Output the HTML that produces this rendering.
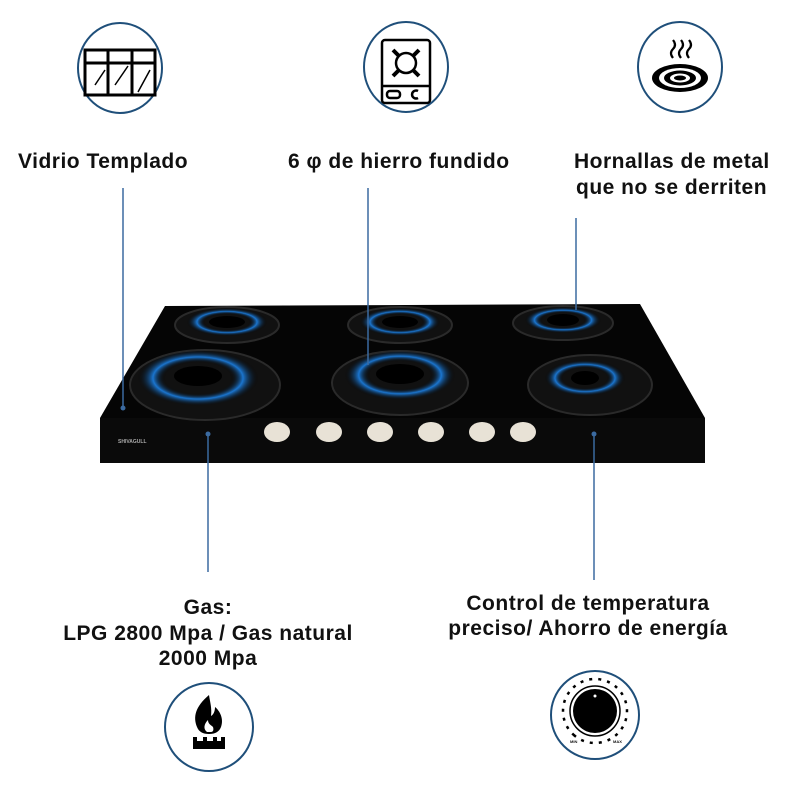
<!DOCTYPE html>
<html><head><meta charset="utf-8"><style>
body{margin:0;background:#fff;width:800px;height:800px;overflow:hidden}
svg{display:block}
text{font-family:"Liberation Sans","DejaVu Sans",sans-serif;font-size:21px;fill:#111;font-weight:bold;letter-spacing:0.5px}
</style></head><body>
<svg width="800" height="800" viewBox="0 0 800 800" xmlns="http://www.w3.org/2000/svg">
<defs>
<radialGradient id="fl" cx="50%" cy="50%" r="50%">
<stop offset="55%" stop-color="#000" stop-opacity="0"/>
<stop offset="75%" stop-color="#1e8fff"/>
<stop offset="100%" stop-color="#000" stop-opacity="0"/>
</radialGradient>
</defs>
<g fill="none" stroke="#1f4f7a" stroke-width="2">
<ellipse cx="120" cy="68" rx="42" ry="45"/>
<ellipse cx="406" cy="67" rx="42" ry="45"/>
<ellipse cx="680" cy="67" rx="42" ry="45"/>
<circle cx="209" cy="727" r="44"/>
<circle cx="595" cy="715" r="44"/>
</g>
<g fill="none" stroke="#000" stroke-width="3">
<rect x="85" y="50" width="70" height="45"/>
<line x1="85" y1="63" x2="155" y2="63"/>
<line x1="108" y1="50" x2="108" y2="95"/><line x1="132" y1="50" x2="132" y2="95"/>
<line x1="95" y1="85" x2="105" y2="70" stroke-width="1.5"/><line x1="115" y1="85" x2="128" y2="66" stroke-width="1.5"/><line x1="138" y1="92" x2="150" y2="70" stroke-width="1.5"/>
</g>
<g fill="none" stroke="#000" stroke-width="2.5">
<rect x="382" y="40" width="48" height="63" rx="3"/>
<line x1="382" y1="86" x2="430" y2="86"/>
<circle cx="406" cy="63" r="10"/>
<line x1="393" y1="50" x2="399" y2="56" stroke-width="4"/><line x1="419" y1="50" x2="413" y2="56" stroke-width="4"/>
<line x1="393" y1="76" x2="399" y2="70" stroke-width="4"/><line x1="419" y1="76" x2="413" y2="70" stroke-width="4"/>
<rect x="387" y="91" width="13" height="7" rx="3"/>
<path d="M418 91 a4 4 0 1 0 0 7"/>
</g>
<g>
<ellipse cx="680" cy="78" rx="28" ry="14" fill="#000"/>
<ellipse cx="680" cy="78" rx="21" ry="10" fill="#fff"/>
<ellipse cx="680" cy="78" rx="16" ry="7.5" fill="#000"/>
<ellipse cx="680" cy="78" rx="10" ry="4.5" fill="#fff"/>
<ellipse cx="680" cy="78" rx="6" ry="2.5" fill="#000"/>
<path d="M673 58 q-4 -5 0 -9 q4 -4 0 -9 M681 58 q-4 -5 0 -9 q4 -4 0 -9 M689 58 q-4 -5 0 -9 q4 -4 0 -9" fill="none" stroke="#000" stroke-width="2.2"/>
</g>
<text x="18" y="168">Vidrio Templado</text>
<text x="288" y="168">6 φ de hierro fundido</text>
<text x="574" y="168">Hornallas de metal</text>
<text x="576" y="194">que no se derriten</text>
<text x="208" y="614" text-anchor="middle">Gas:</text>
<text x="208" y="640" text-anchor="middle">LPG 2800 Mpa / Gas natural</text>
<text x="208" y="665" text-anchor="middle">2000 Mpa</text>
<text x="588" y="610" text-anchor="middle">Control de temperatura</text>
<text x="588" y="635" text-anchor="middle">preciso/ Ahorro de energía</text>
<polygon points="165,306 640,304 705,418 705,463 100,463 100,418" fill="#050505"/>
<polygon points="100,418 705,418 705,463 100,463" fill="#0a0a0a"/>
<g fill="#111" stroke="#2a2a2a" stroke-width="2">
<ellipse cx="227" cy="325" rx="52" ry="18"/>
<ellipse cx="400" cy="325" rx="52" ry="18"/>
<ellipse cx="563" cy="323" rx="50" ry="17"/>
<ellipse cx="205" cy="385" rx="75" ry="35"/>
<ellipse cx="400" cy="383" rx="68" ry="32"/>
<ellipse cx="590" cy="385" rx="62" ry="30"/>
</g>
<g fill="url(#fl)" opacity="0.8">
<ellipse cx="227" cy="322" rx="40" ry="14"/>
<ellipse cx="400" cy="322" rx="40" ry="14"/>
<ellipse cx="563" cy="320" rx="38" ry="13"/>
<ellipse cx="198" cy="378" rx="60" ry="28"/>
<ellipse cx="400" cy="375" rx="55" ry="25"/>
<ellipse cx="585" cy="378" rx="40" ry="18"/>
</g>
<g fill="#000">
<ellipse cx="227" cy="322" rx="18" ry="6"/>
<ellipse cx="400" cy="322" rx="18" ry="6"/>
<ellipse cx="563" cy="320" rx="16" ry="6"/>
<ellipse cx="198" cy="376" rx="24" ry="10"/>
<ellipse cx="400" cy="374" rx="24" ry="10"/>
<ellipse cx="585" cy="378" rx="14" ry="7"/>
</g>
<g fill="#e8e2d6">
<ellipse cx="277" cy="432" rx="13" ry="10"/><ellipse cx="329" cy="432" rx="13" ry="10"/>
<ellipse cx="380" cy="432" rx="13" ry="10"/><ellipse cx="431" cy="432" rx="13" ry="10"/>
<ellipse cx="482" cy="432" rx="13" ry="10"/><ellipse cx="523" cy="432" rx="13" ry="10"/>
</g>
<text x="118" y="443" style="font-size:5px;fill:#aaa;letter-spacing:0">SHIVAGULL</text>
<g stroke="#3b6aa0" stroke-width="1.5">
<line x1="123" y1="188" x2="123" y2="408"/>
<line x1="368" y1="188" x2="368" y2="365"/>
<line x1="576" y1="218" x2="576" y2="310"/>
<line x1="208" y1="434" x2="208" y2="572"/>
<line x1="594" y1="434" x2="594" y2="580"/>
</g>
<g fill="#3b6aa0"><circle cx="123" cy="408" r="2.5"/><circle cx="208" cy="434" r="2.5"/><circle cx="594" cy="434" r="2.5"/></g>
<path d="M209 695 c-14 12 -16 22 -12 32 c2 5 6 7 12 7 c6 0 10 -2 12 -7 c3 -8 -1 -16 -6 -20 c0 5 -2 8 -4 9 c1 -8 -1 -14 -2 -21z" fill="#000"/>
<path d="M207 732 c-4 -3 -3 -8 1 -12 c0 4 3 5 5 7 c1 3 0 5 -2 5z" fill="#fff"/>
<path d="M193 741 h32 v8 h-32z M193 741 v-4 h4 v4 M203 741 v-4 h4 v4 M213 741 v-4 h4 v4 M221 741 v-4 h4 v4" fill="#000"/>
<circle cx="595" cy="711" r="25" fill="none" stroke="#000" stroke-width="1.5"/>
<circle cx="595" cy="711" r="22" fill="#000"/>
<circle cx="595" cy="696" r="1.5" fill="#fff"/>
<circle cx="595" cy="711" r="32" fill="none" stroke="#000" stroke-width="2.5" stroke-dasharray="1.5 3" transform="rotate(130 595 711)" pathLength="100"/>
<text x="570" y="743" style="font-size:4px;letter-spacing:0">MIN</text>
<text x="613" y="743" style="font-size:4px;letter-spacing:0">MAX</text>
</svg>
</body></html>
